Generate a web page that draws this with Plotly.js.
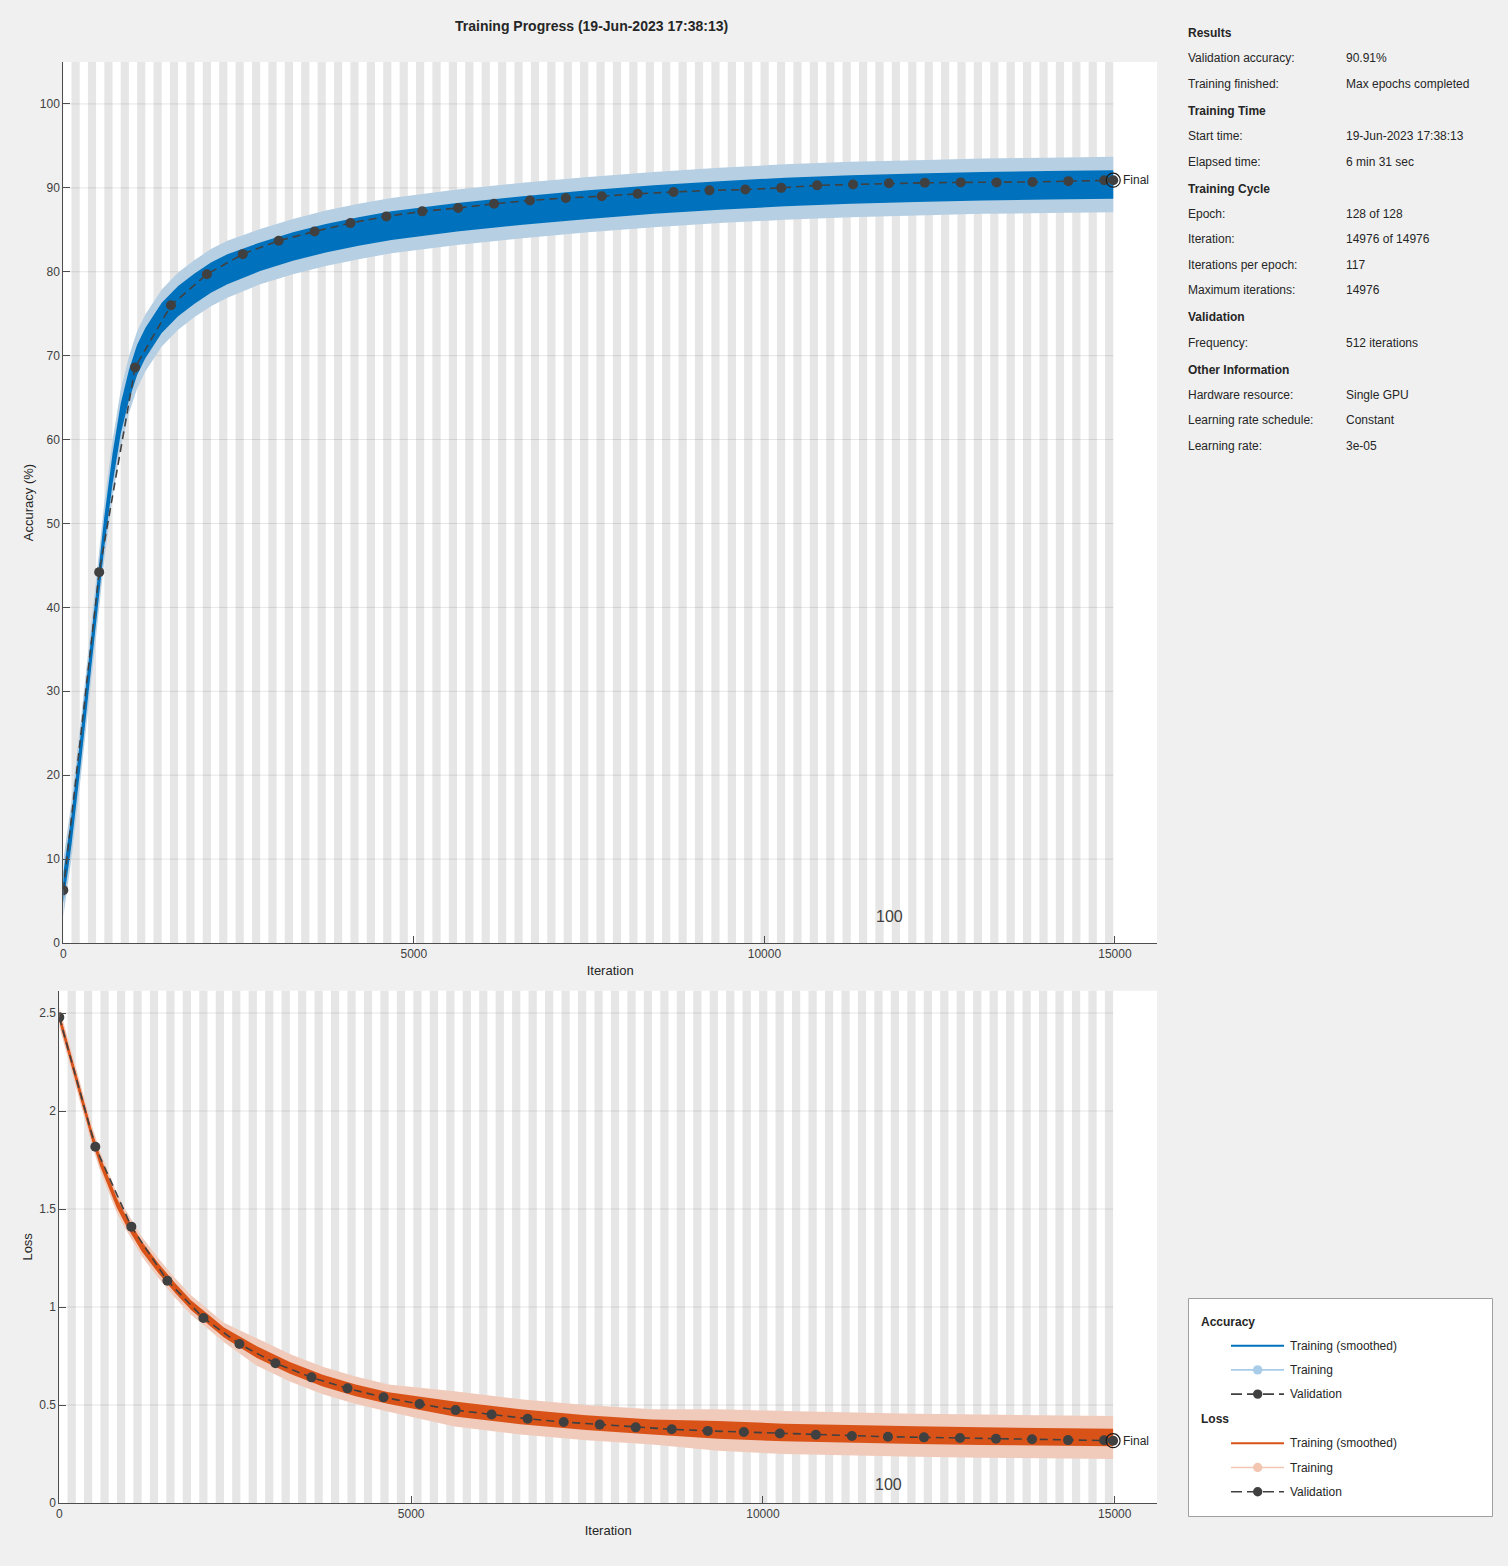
<!DOCTYPE html>
<html>
<head>
<meta charset="utf-8">
<script src="https://cdn.plot.ly/plotly-3.0.1.min.js"></script>
<style>
  html, body { margin: 0; padding: 0; background: #f0f0f0; }
  #chart { width: 1508px; height: 1566px; }
</style>
</head>
<body>
<div id="chart"></div>
<script>
// Training run facts
var ITERS_PER_EPOCH = 117;
var NUM_EPOCHS = 128;
var LAST_ITER = 14976;
var EPOCH_LABEL = 100;

// Training curves at a set of iterations
var trainIter = [0, 117, 234, 351, 468, 585, 702, 819, 936, 1053, 1170, 1404, 1638, 1872, 2106, 2340, 2808, 3276, 3744, 4212, 4680, 5616, 6552, 7488, 8424, 9360, 10296, 11232, 12168, 13104, 14040, 14976];

var accSmooth   = [6.5, 13.5, 22, 31, 40, 49, 56.5, 62.5, 66.5, 69.5, 71.5, 74.5, 76.5, 78, 79.3, 80.3, 81.8, 83, 84, 84.8, 85.5, 86.5, 87.3, 88, 88.6, 89.1, 89.5, 89.8, 90, 90.2, 90.3, 90.4];
var accSmoothLo = [4.7, 11.7, 20.2, 29.2, 38.2, 47.2, 54.7, 60.7, 64.7, 67.7, 69.7, 72.7, 74.7, 76.2, 77.5, 78.5, 80.1, 81.3, 82.3, 83.1, 83.8, 84.8, 85.6, 86.3, 86.9, 87.4, 87.8, 88.1, 88.3, 88.5, 88.6, 88.7];
var accSmoothHi = [8.3, 15.3, 23.8, 32.8, 41.8, 50.8, 58.3, 64.3, 68.3, 71.3, 73.3, 76.3, 78.3, 79.8, 81.1, 82.1, 83.5, 84.7, 85.7, 86.5, 87.2, 88.2, 89, 89.7, 90.3, 90.8, 91.2, 91.5, 91.7, 91.9, 92, 92.1];
var accRawLo    = [3.1, 10.1, 18.6, 27.6, 36.6, 45.6, 53.1, 59.1, 63.1, 66.1, 68.1, 71.1, 73.1, 74.6, 75.9, 76.9, 78.5, 79.7, 80.7, 81.5, 82.2, 83.2, 84, 84.7, 85.3, 85.8, 86.2, 86.5, 86.7, 86.9, 87, 87.1];
var accRawHi    = [9.9, 16.9, 25.4, 34.4, 43.4, 52.4, 59.9, 65.9, 69.9, 72.9, 74.9, 77.9, 79.9, 81.4, 82.7, 83.7, 85.1, 86.3, 87.3, 88.1, 88.8, 89.8, 90.6, 91.3, 91.9, 92.4, 92.8, 93.1, 93.3, 93.5, 93.6, 93.7];

var lossSmooth   = [2.48, 2.33, 2.17, 2.02, 1.87, 1.74, 1.63, 1.53, 1.45, 1.38, 1.31, 1.2, 1.1, 1.01, 0.94, 0.87, 0.77, 0.69, 0.625, 0.575, 0.535, 0.48, 0.44, 0.41, 0.388, 0.373, 0.36, 0.352, 0.346, 0.341, 0.337, 0.334];
var lossSmoothLo = [2.455, 2.305, 2.145, 1.995, 1.845, 1.715, 1.605, 1.505, 1.425, 1.355, 1.285, 1.175, 1.075, 0.985, 0.915, 0.845, 0.74, 0.66, 0.595, 0.545, 0.505, 0.442, 0.402, 0.372, 0.35, 0.328, 0.315, 0.307, 0.301, 0.296, 0.292, 0.289];
var lossSmoothHi = [2.505, 2.355, 2.195, 2.045, 1.895, 1.765, 1.655, 1.555, 1.475, 1.405, 1.335, 1.225, 1.125, 1.035, 0.965, 0.895, 0.8, 0.72, 0.655, 0.605, 0.565, 0.518, 0.478, 0.448, 0.426, 0.418, 0.405, 0.397, 0.391, 0.386, 0.382, 0.379];
var lossRawLo    = [2.43, 2.28, 2.12, 1.97, 1.82, 1.69, 1.58, 1.48, 1.4, 1.33, 1.26, 1.15, 1.05, 0.96, 0.89, 0.82, 0.7, 0.62, 0.555, 0.505, 0.465, 0.39, 0.35, 0.32, 0.298, 0.266, 0.25, 0.242, 0.236, 0.231, 0.227, 0.224];
var lossRawHi    = [2.53, 2.38, 2.22, 2.07, 1.92, 1.79, 1.68, 1.58, 1.5, 1.43, 1.36, 1.25, 1.15, 1.06, 0.99, 0.92, 0.84, 0.76, 0.695, 0.645, 0.605, 0.57, 0.53, 0.5, 0.478, 0.478, 0.47, 0.462, 0.456, 0.451, 0.447, 0.444];

// Validation every 512 iterations, plus the final point
var valIter = [0, 512, 1024, 1536, 2048, 2560, 3072, 3584, 4096, 4608, 5120, 5632, 6144, 6656, 7168, 7680, 8192, 8704, 9216, 9728, 10240, 10752, 11264, 11776, 12288, 12800, 13312, 13824, 14336, 14848, 14976];
var accVal  = [6.3, 44.2, 68.6, 76.0, 79.7, 82.1, 83.7, 84.8, 85.8, 86.6, 87.2, 87.6, 88.1, 88.5, 88.8, 89.0, 89.3, 89.5, 89.7, 89.8, 90.0, 90.3, 90.4, 90.55, 90.6, 90.65, 90.65, 90.7, 90.8, 90.9, 90.91];
var lossVal = [2.478, 1.818, 1.41, 1.134, 0.944, 0.811, 0.713, 0.641, 0.585, 0.539, 0.505, 0.474, 0.452, 0.43, 0.413, 0.4, 0.386, 0.376, 0.368, 0.362, 0.355, 0.348, 0.342, 0.338, 0.335, 0.332, 0.328, 0.325, 0.321, 0.32, 0.318];

// Ticks
var iterTicks = [0, 5000, 10000, 15000];
var iterTickText = ["0", "5000", "10000", "15000"];
var accTicks = [0, 10, 20, 30, 40, 50, 60, 70, 80, 90, 100];
var lossTicks = [0, 0.5, 1, 1.5, 2, 2.5];
var lossTickText = ["0", "0.5", "1", "1.5", "2", "2.5"];

// Side panel
var infoSections = [
  { title: "Results", rows: [["Validation accuracy:", "90.91%"], ["Training finished:", "Max epochs completed"]] },
  { title: "Training Time", rows: [["Start time:", "19-Jun-2023 17:38:13"], ["Elapsed time:", "6 min 31 sec"]] },
  { title: "Training Cycle", rows: [["Epoch:", "128 of 128"], ["Iteration:", "14976 of 14976"], ["Iterations per epoch:", "117"], ["Maximum iterations:", "14976"]] },
  { title: "Validation", rows: [["Frequency:", "512 iterations"]] },
  { title: "Other Information", rows: [["Hardware resource:", "Single GPU"], ["Learning rate schedule:", "Constant"], ["Learning rate:", "3e-05"]] }
];
var legendGroups = ["Accuracy", "Loss"];
var legendItems = ["Training (smoothed)", "Training", "Validation"];

var W = 1508, H = 1566;
var FONT = "Liberation Sans, Arial, sans-serif";
var TEXT = "#262626";
var AXIS = "#4d4d4d";
var BLUE = "#0072BD", BLUE_LIGHT = "#b6cfe3", BLUE_KEY = "#a9cde9";
var ORANGE = "#D95319", ORANGE_LIGHT = "#f0cbbc", ORANGE_KEY = "#f3c6b2";
var VAL = "#404040";

function px(x) { return x / W; }
function py(y) { return 1 - y / H; }

function bandTraces(xa, ya, lo, hi, color) {
  return [
    { x: trainIter, y: lo, xaxis: xa, yaxis: ya, mode: "lines", line: { width: 0, color: color }, hoverinfo: "skip", showlegend: false },
    { x: trainIter, y: hi, xaxis: xa, yaxis: ya, mode: "lines", line: { width: 0, color: color }, fill: "tonexty", fillcolor: color, hoverinfo: "skip", showlegend: false }
  ];
}

function curveTraces(xa, ya, sm, smLo, smHi, rawLo, rawHi, val, dark, light) {
  var last = valIter.length - 1;
  return [].concat(
    bandTraces(xa, ya, rawLo, rawHi, light),
    bandTraces(xa, ya, smLo, smHi, dark),
    [
      { x: trainIter, y: sm, xaxis: xa, yaxis: ya, mode: "lines", line: { color: dark, width: 2 }, showlegend: false },
      { x: valIter, y: val, xaxis: xa, yaxis: ya, mode: "lines+markers", line: { color: VAL, width: 1.6, dash: "8px,5px" }, marker: { size: 10, color: VAL }, showlegend: false },
      { x: [valIter[last]], y: [val[last]], xaxis: xa, yaxis: ya, mode: "markers", marker: { symbol: "circle-open", size: 14, color: "#1a1a1a", line: { width: 1.2 } }, showlegend: false }
    ]
  );
}

var data = [].concat(
  curveTraces("x", "y", accSmooth, accSmoothLo, accSmoothHi, accRawLo, accRawHi, accVal, BLUE, BLUE_LIGHT),
  curveTraces("x2", "y2", lossSmooth, lossSmoothLo, lossSmoothHi, lossRawLo, lossRawHi, lossVal, ORANGE, ORANGE_LIGHT)
);

// Epoch stripes and horizontal grid lines
var shapes = [];
["", "2"].forEach(function(s) {
  for (var e = 2; e <= NUM_EPOCHS; e += 2) {
    shapes.push({ type: "rect", xref: "x" + s, yref: "y" + s + " domain", x0: (e - 1) * ITERS_PER_EPOCH, x1: e * ITERS_PER_EPOCH, y0: 0, y1: 1, fillcolor: "#e6e6e6", line: { width: 0 }, layer: "below" });
  }
});
accTicks.forEach(function(v) {
  if (v > 0) shapes.push({ type: "line", xref: "x", yref: "y", x0: 0, x1: LAST_ITER, y0: v, y1: v, line: { color: "rgba(0,0,0,0.1)", width: 1 }, layer: "below" });
});
lossTicks.forEach(function(v) {
  if (v > 0) shapes.push({ type: "line", xref: "x2", yref: "y2", x0: 0, x1: LAST_ITER, y0: v, y1: v, line: { color: "rgba(0,0,0,0.1)", width: 1 }, layer: "below" });
});

var annotations = [];
function txt(x, y, text, opts) {
  opts = opts || {};
  annotations.push({
    xref: "paper", yref: "paper", x: px(x), y: py(y), text: text, showarrow: false,
    xanchor: opts.anchor || "left", yanchor: "middle", borderpad: 0, borderwidth: 0,
    font: { family: FONT, size: opts.size || 12, color: opts.color || TEXT }
  });
}

txt(591, 25.5, "<b>Training Progress (19-Jun-2023 17:38:13)</b>", { anchor: "center", size: 14 });

// Side panel rows
var rowY = 33;
infoSections.forEach(function(sec, i) {
  if (i > 0) rowY += 27;
  txt(1188, rowY, "<b>" + sec.title + "</b>");
  sec.rows.forEach(function(r) {
    rowY += 25.4;
    txt(1188, rowY, r[0]);
    txt(1346, rowY, r[1]);
  });
});

// Epoch label and "Final" tags
var last = valIter.length - 1;
[["x", "y", 0.03], ["x2", "y2", 0.036]].forEach(function(a) {
  annotations.push({ xref: a[0], yref: a[1] + " domain", x: (EPOCH_LABEL - 1) * ITERS_PER_EPOCH, y: a[2], text: String(EPOCH_LABEL), showarrow: false, xanchor: "left", yanchor: "middle", xshift: 1, borderpad: 0, borderwidth: 0, font: { family: FONT, size: 16, color: "#404040" } });
});
annotations.push({ xref: "x", yref: "y", x: valIter[last], y: accVal[last], text: "Final", showarrow: false, xanchor: "left", yanchor: "middle", xshift: 10, borderpad: 0, borderwidth: 0, font: { family: FONT, size: 12, color: TEXT } });
annotations.push({ xref: "x2", yref: "y2", x: valIter[last], y: lossVal[last], text: "Final", showarrow: false, xanchor: "left", yanchor: "middle", xshift: 10, borderpad: 0, borderwidth: 0, font: { family: FONT, size: 12, color: TEXT } });

// Legend box (drawn by hand so it can carry the group headings)
shapes.push({ type: "rect", xref: "paper", yref: "paper", x0: px(1188.5), x1: px(1492.5), y0: py(1516.5), y1: py(1298.5), fillcolor: "#ffffff", line: { color: "#a0a0a0", width: 1 } });
var keyColors = [[BLUE, BLUE_KEY], [ORANGE, ORANGE_KEY]];
var keyY = 1321.5;
legendGroups.forEach(function(g, gi) {
  if (gi > 0) keyY += 25;
  txt(1201, keyY, "<b>" + g + "</b>");
  legendItems.forEach(function(item, ii) {
    keyY += 24.2;
    var col = ii === 0 ? keyColors[gi][0] : ii === 1 ? keyColors[gi][1] : VAL;
    shapes.push({ type: "line", xref: "paper", yref: "paper", x0: px(1231), x1: px(1284), y0: py(keyY), y1: py(keyY), line: { color: col, width: ii === 0 ? 2 : 1.6, dash: ii === 2 ? "11px,5px" : "solid" } });
    if (ii > 0) {
      shapes.push({ type: "circle", xref: "paper", yref: "paper", x0: px(1253), x1: px(1262.4), y0: py(keyY + 4.7), y1: py(keyY - 4.7), fillcolor: col, line: { color: col, width: 0 } });
    }
    txt(1290, keyY, item);
  });
});

function axisBase() {
  return {
    ticks: "inside", ticklen: 7, tickcolor: AXIS, tickwidth: 1,
    showline: true, linecolor: AXIS, linewidth: 1, mirror: false,
    showgrid: false, zeroline: false, fixedrange: true,
    tickfont: { family: FONT, size: 12, color: "#404040" }
  };
}

var xTop = Object.assign(axisBase(), { domain: [px(63.3), px(1157)], range: [0, 15600], tickvals: iterTicks, ticktext: iterTickText, anchor: "y",
  title: { text: "Iteration", font: { family: FONT, size: 13, color: TEXT }, standoff: 5 } });
var yTop = Object.assign(axisBase(), { domain: [py(943), py(62)], range: [0, 105], tickvals: accTicks, anchor: "x",
  title: { text: "Accuracy (%)", font: { family: FONT, size: 13, color: TEXT }, standoff: 3 } });
var xBot = Object.assign(axisBase(), { domain: [px(59.3), px(1157)], range: [0, 15600], tickvals: iterTicks, ticktext: iterTickText, anchor: "y2",
  title: { text: "Iteration", font: { family: FONT, size: 13, color: TEXT }, standoff: 5 } });
var yBot = Object.assign(axisBase(), { domain: [py(1503), py(990.7)], range: [0, 2.614], tickvals: lossTicks, ticktext: lossTickText, anchor: "x2",
  title: { text: "Loss", font: { family: FONT, size: 13, color: TEXT }, standoff: 3 } });

var layout = {
  width: W, height: H, autosize: false,
  margin: { l: 0, r: 0, t: 0, b: 0, pad: 0 },
  paper_bgcolor: "#f0f0f0", plot_bgcolor: "#ffffff",
  font: { family: FONT, size: 12, color: TEXT },
  showlegend: false,
  xaxis: xTop, yaxis: yTop, xaxis2: xBot, yaxis2: yBot,
  shapes: shapes, annotations: annotations
};

Plotly.newPlot("chart", data, layout, { displayModeBar: false, staticPlot: true });
</script>
</body>
</html>
